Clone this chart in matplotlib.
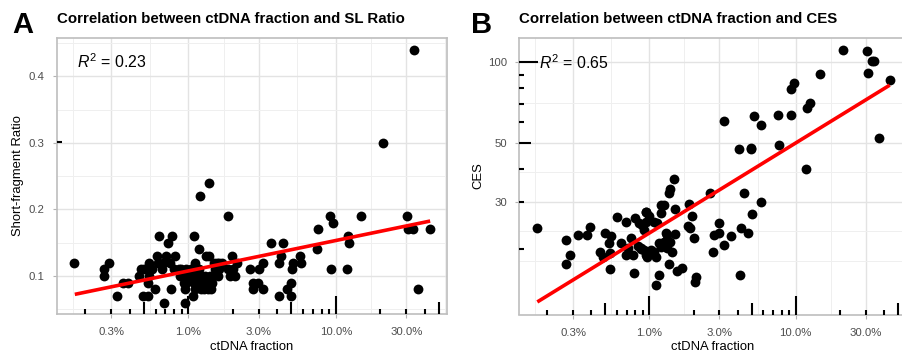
import matplotlib
matplotlib.use('Agg')
import matplotlib.pyplot as plt
import matplotlib.transforms as mtransforms
import matplotlib.ticker as mticker
import numpy as np

plt.rcParams['font.family'] = ['Liberation Sans', 'DejaVu Sans']
plt.rcParams['mathtext.fontset'] = 'custom'
plt.rcParams['mathtext.rm'] = 'Liberation Sans'
plt.rcParams['mathtext.it'] = 'Liberation Sans:italic'

# ---- data: ctDNA fraction (%) vs short-fragment ratio (panel A)
ctdna_a = [0.169, 0.267, 0.268, 0.289, 0.329, 0.363, 0.39, 0.461, 0.476, 0.50,
           0.495, 0.53, 0.535, 0.544, 0.544, 0.565, 0.595, 0.61, 0.636, 0.62,
           0.66, 0.67, 0.685, 0.725, 0.706, 0.75, 0.76, 0.775, 0.81, 0.80,
           0.86, 0.88, 0.89, 0.935, 0.95, 0.955, 0.965, 0.965, 0.975, 1.11,
           1.03, 1.07, 1.09, 1.04, 1.11, 1.11, 1.19, 1.20, 1.19, 1.17,
           1.20, 1.28, 1.32, 1.30, 1.30, 1.35, 1.39, 1.39, 1.35, 1.45,
           1.45, 1.52, 1.60, 1.68, 1.62, 1.62, 1.87, 1.87, 1.92, 1.97,
           2.02, 2.06, 2.15, 2.62, 2.74, 2.76, 2.98, 3.03, 3.20, 3.20,
           3.63, 4.10, 4.14, 4.23, 4.37, 4.69, 4.94, 5.02, 5.00, 5.12,
           5.70, 5.85, 7.42, 7.60, 9.14, 9.62, 9.22, 11.86, 12.0, 12.35,
           14.75, 21.0, 30.2, 30.9, 33.5, 33.9, 36.3, 43.5,
           1.00, 1.23, 1.40, 1.10, 1.25, 1.42, 1.22, 1.50, 1.56]
sl_ratio = [0.12, 0.10, 0.11, 0.12, 0.07, 0.09, 0.09, 0.10, 0.11, 0.11,
            0.07, 0.07, 0.09, 0.10, 0.12, 0.11, 0.08, 0.13, 0.16, 0.12,
            0.11, 0.12, 0.06, 0.15, 0.13, 0.12, 0.08, 0.16, 0.13, 0.11,
            0.11, 0.10, 0.11, 0.09, 0.06, 0.08, 0.11, 0.09, 0.10, 0.12,
            0.10, 0.07, 0.16, 0.11, 0.10, 0.08, 0.14, 0.22, 0.11, 0.10,
            0.09, 0.08, 0.13, 0.10, 0.09, 0.09, 0.13, 0.24, 0.08, 0.10,
            0.09, 0.11, 0.10, 0.12, 0.11, 0.12, 0.19, 0.11, 0.10, 0.13,
            0.11, 0.10, 0.12, 0.11, 0.09, 0.08, 0.09, 0.11, 0.12, 0.08,
            0.15, 0.12, 0.07, 0.13, 0.15, 0.08, 0.09, 0.11, 0.07, 0.12,
            0.13, 0.12, 0.14, 0.17, 0.19, 0.18, 0.11, 0.11, 0.16, 0.15,
            0.19, 0.30, 0.19, 0.17, 0.17, 0.44, 0.08, 0.17,
            0.10, 0.10, 0.10, 0.09, 0.09, 0.08, 0.08, 0.12, 0.12]

# ---- data: ctDNA fraction (%) vs CES (panel B)
ctdna_b = [0.169, 0.27, 0.288, 0.27, 0.326, 0.371, 0.389, 0.495, 0.547, 0.527,
           0.457, 0.483, 0.54, 0.54, 0.601, 0.634, 0.686, 0.711, 0.742, 0.689,
           0.774, 0.781, 0.80, 0.845, 0.83, 0.88, 0.94, 0.95, 0.91, 1.47,
           1.38, 1.36, 1.20, 1.25, 0.95, 1.19, 1.08, 1.13, 0.89, 1.49,
           1.87, 1.94, 1.83, 1.88, 2.01, 1.50, 1.29, 1.32, 1.25, 1.39,
           1.32, 1.43, 1.16, 1.19, 0.87, 0.91, 0.96, 1.10, 1.02, 1.07,
           1.37, 1.55, 1.67, 1.16, 1.10, 2.09, 2.06, 2.61, 2.98, 3.01,
           2.78, 2.73, 3.22, 3.62, 4.41, 4.23, 4.70, 5.06, 5.83, 4.14,
           3.22, 4.12, 4.98, 4.98, 5.16, 5.74, 7.53, 7.74, 9.30, 9.69,
           9.30, 11.97, 12.47, 11.8, 14.75, 21.1, 30.8, 31.3, 33.3, 34.5,
           36.9, 43.9, 0.95, 1.00]
ces = [24.0, 21.6, 18.9, 17.6, 22.6, 22.6, 24.1, 22.9, 22.4, 21.1,
       19.4, 18.7, 19.3, 16.8, 26.4, 21.0, 25.3, 20.2, 21.9, 19.0,
       19.0, 16.3, 26.0, 25.0, 20.5, 19.9, 27.6, 19.0, 23.6, 36.5,
       33.4, 32.5, 29.2, 29.2, 25.3, 27.2, 25.3, 24.9, 24.6, 28.2,
       29.4, 26.6, 24.4, 23.9, 22.0, 22.7, 22.9, 22.5, 21.3, 21.3,
       20.1, 19.5, 21.0, 20.3, 20.1, 19.8, 18.6, 18.6, 19.8, 19.5,
       17.6, 16.5, 16.9, 16.0, 14.6, 15.7, 15.0, 32.3, 25.1, 22.9,
       22.5, 19.5, 20.7, 22.4, 32.5, 24.0, 23.0, 27.0, 29.9, 16.0,
       60.1, 47.2, 47.9, 47.2, 63.1, 58.2, 63.5, 49.0, 79.2, 83.9,
       63.5, 67.6, 70.6, 39.8, 90.4, 111.2, 110.5, 91.4, 101.4, 101.4,
       52.2, 85.8, 27.4, 26.5]

# fitted regression lines (end points)
fit_a_x = [0.17, 43.6]
fit_a_y = [0.0725, 0.1826]
fit_b_x = [0.171, 43.9]
fit_b_y = [12.65, 82.2]
r2_a = 0.23
r2_b = 0.65

x_breaks = [0.3, 1, 3, 10, 30]
x_labels = ['0.3%', '1.0%', '3.0%', '10.0%', '30.0%']
ya_breaks = [0.1, 0.2, 0.3, 0.4]
ya_minor = [0.05, 0.15, 0.25, 0.35, 0.45]
yb_breaks = [30, 50, 100]

W, H = 902, 360
fig = plt.figure(figsize=(W / 100, H / 100), dpi=100)


def px_axes(l, t, r, b):
    return fig.add_axes([l / W, 1 - b / H, (r - l) / W, (b - t) / H])


def minor_log(breaks):
    # ggplot-style minor breaks: midpoints in transformed space
    b = list(np.log10(breaks))
    d = b[1] - b[0]
    b = [b[0] - d] + b + [b[-1] + d]
    mids = [(b[i] + b[i + 1]) / 2 for i in range(len(b) - 1)]
    return [10 ** v for v in b + mids]


GRID = '#E3E3E3'
GRID_MINOR = '#EFEFEF'


def style(ax, w, h):
    for s in ax.spines.values():
        s.set_color('#BEBEBE')
        s.set_linewidth(1.2)
    ax.grid(True, which='major', color=GRID, lw=1.0, zorder=0)
    ax.grid(True, which='minor', color=GRID_MINOR, lw=0.7, zorder=0)
    ax.set_axisbelow(True)
    ax.tick_params(which='major', length=3, width=0.8, color='#B3B3B3',
                   labelsize=8.2, labelcolor='#4D4D4D')
    ax.tick_params(axis='x', pad=6.5)
    ax.tick_params(axis='y', pad=6)
    ax.tick_params(which='minor', length=0)
    ax.set_xscale('log')
    ax.set_xlim(0.1288, 56.7)
    ax.set_xticks(x_breaks, x_labels)
    ax.xaxis.set_minor_locator(mticker.FixedLocator(minor_log(x_breaks)))
    ax.xaxis.set_minor_formatter(mticker.NullFormatter())
    # log ticks along the bottom
    trans = mtransforms.blended_transform_factory(ax.transData, ax.transAxes)
    for k in range(-2, 3):
        for m in range(1, 10):
            v = m * 10.0 ** k
            if 0.1288 < v < 56.7:
                hp = 18.3 if m == 1 else (11.7 if m == 5 else 5.0)
                ax.plot([v, v], [0, hp / h], transform=trans, color='black',
                        lw=1.5, solid_capstyle='butt', zorder=3)


# ---------------- panel A
aw, ah = 447 - 57, 314 - 38
axA = px_axes(57, 38, 447, 314)
style(axA, aw, ah)
axA.set_ylim(0.043, 0.4575)
axA.set_yticks(ya_breaks, ['0.1', '0.2', '0.3', '0.4'])
axA.yaxis.set_minor_locator(mticker.FixedLocator(ya_minor))
axA.scatter(ctdna_a, sl_ratio, s=50, color='black', linewidths=0, zorder=4)
axA.plot(fit_a_x, fit_a_y, color='#FF0000', lw=2.6, zorder=5, solid_capstyle='butt')
transA = mtransforms.blended_transform_factory(axA.transAxes, axA.transData)
for k in range(-3, 1):
    for m in range(1, 10):
        v = np.log10(m * 10.0 ** k)
        if 0.043 < v < 0.4575:
            wp = 18.3 if m == 1 else (11.7 if m == 5 else 5.0)
            axA.plot([0, wp / aw], [v, v], transform=transA, color='black',
                     lw=1.5, solid_capstyle='butt', zorder=3)
axA.text(0.175, 0.4215, r'$R^2$ = %.2f' % r2_a, fontsize=11.4, ha='left',
         va='center', zorder=6)

# ---------------- panel B
bw, bh = 906 - 519.3, 314.5 - 37.5
axB = px_axes(519.3, 37.5, 906, 314.5)
style(axB, bw, bh)
axB.set_yscale('log')
axB.set_ylim(11.35, 124)
axB.set_yticks(yb_breaks, ['30', '50', '100'])
axB.yaxis.set_minor_locator(mticker.FixedLocator(minor_log(yb_breaks)))
axB.yaxis.set_minor_formatter(mticker.NullFormatter())
axB.scatter(ctdna_b, ces, s=50, color='black', linewidths=0, zorder=4)
axB.plot(fit_b_x, fit_b_y, color='#FF0000', lw=2.6, zorder=5, solid_capstyle='butt')
transB = mtransforms.blended_transform_factory(axB.transAxes, axB.transData)
for k in range(0, 3):
    for m in range(1, 10):
        v = m * 10.0 ** k
        if 11.35 < v < 124:
            wp = 18.3 if m == 1 else (11.7 if m == 5 else 5.0)
            axB.plot([0, wp / bw], [v, v], transform=transB, color='black',
                     lw=1.5, solid_capstyle='butt', zorder=3)
axB.text(0.175, 100, r'$R^2$ = %.2f' % r2_b, fontsize=11.4, ha='left',
         va='center', zorder=6)

# ---------------- titles and labels
fig.text(12 / W, 1 - 33 / H, 'A', fontsize=21, fontweight='bold', va='baseline')
fig.text(471 / W, 1 - 33 / H, 'B', fontsize=21, fontweight='bold', va='baseline')
fig.text(57 / W, 1 - 22.7 / H, 'Correlation between ctDNA fraction and SL Ratio',
         fontsize=10.8, fontweight='bold', va='baseline')
fig.text(519 / W, 1 - 22.7 / H, 'Correlation between ctDNA fraction and CES',
         fontsize=10.8, fontweight='bold', va='baseline')
fig.text(252 / W, 1 - 347 / H, 'ctDNA fraction', fontsize=9.4, ha='center', va='center')
fig.text(712.6 / W, 1 - 347 / H, 'ctDNA fraction', fontsize=9.4, ha='center', va='center')
fig.text(18.3 / W, 1 - 176 / H, 'Short-fragment Ratio', fontsize=9.4, rotation=90,
         ha='center', va='center')
fig.text(478 / W, 1 - 176 / H, 'CES', fontsize=9.4, rotation=90,
         ha='center', va='center')

fig.savefig('out.png', dpi=100, facecolor='white')
